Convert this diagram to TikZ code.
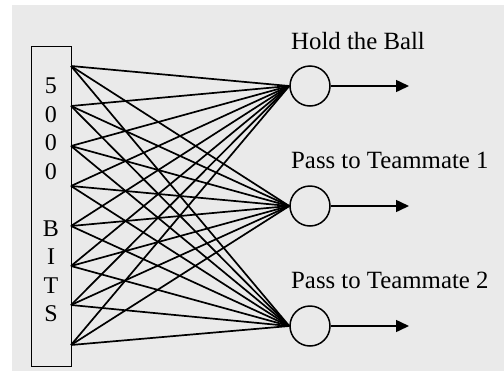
\documentclass[tikz,border=0pt]{standalone}
\usepackage{fontspec}
\setmainfont{Liberation Serif}
\usetikzlibrary{arrows.meta}
\definecolor{bggray}{RGB}{234,234,234}
\begin{document}
\begin{tikzpicture}[x=1pt,y=-1pt,
  conn/.style={line width=1.7pt},
  neuron/.style={circle,draw,line width=1.5pt,minimum size=40pt,inner sep=0pt},
  outarrow/.style={line width=1.5pt,-{Triangle[length=13pt,width=12pt]}},
  lbl/.style={anchor=base west,inner sep=0pt,font=\fontsize{24.8}{29}\selectfont}]
\useasboundingbox (0,0) rectangle (504,381);
\fill[bggray] (12,5) rectangle (504,371);
\node[draw,line width=1pt,fill=bggray,minimum width=40pt,minimum height=320pt,inner sep=0pt] (box) at (51,206) {};
\node[align=center,inner sep=0pt,font=\fontsize{24}{28.5}\selectfont] (bits) at (51,200)
  {5\\0\\0\\0\\[28.5pt]B\\I\\T\\S};
\foreach \i/\y in {1/66,2/106,3/146,4/186,5/226,6/266,7/305,8/345}
  \coordinate (in\i) at (71,\y);
\node[neuron] (n1) at (310,86) {};
\node[neuron] (n2) at (310,206) {};
\node[neuron] (n3) at (310,326) {};
\foreach \i in {1,...,8}
  \foreach \j in {1,2,3}
    \draw[conn] (in\i) -- (n\j.west);
\foreach \j/\y in {1/86,2/206,3/326}{
  \coordinate (o\j) at (409,\y);
  \draw[outarrow] (n\j.east) -- (o\j);
}
\node[lbl] (t1) at (291,49) {Hold the Ball};
\node[lbl] (t2) at (291,168) {Pass to Teammate 1};
\node[lbl] (t3) at (291,288) {Pass to Teammate 2};
\end{tikzpicture}
\end{document}
